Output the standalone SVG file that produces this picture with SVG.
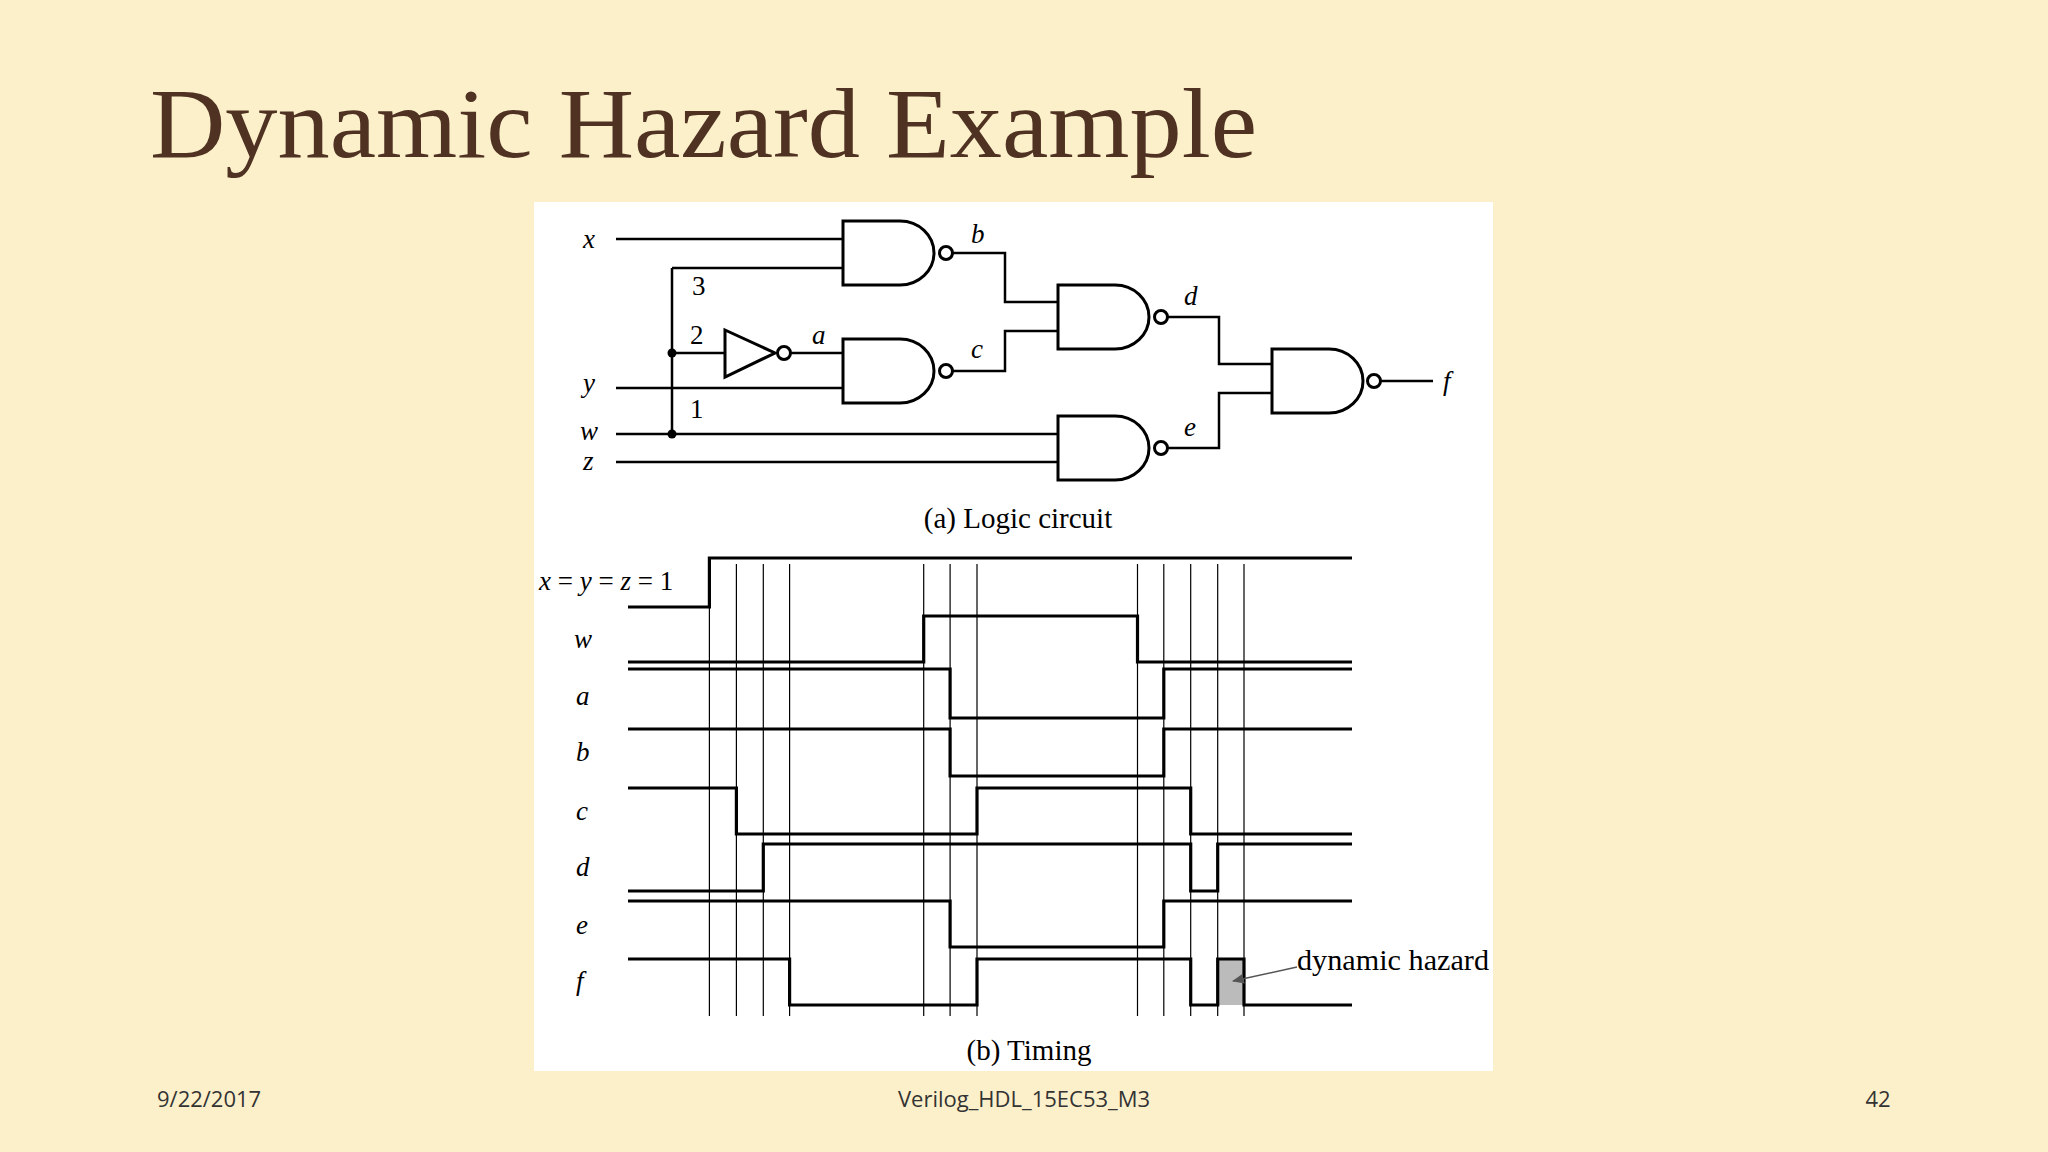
<svg xmlns="http://www.w3.org/2000/svg" width="2048" height="1152" viewBox="0 0 2048 1152">
<style>
.w{fill:none;stroke:#000;stroke-width:2.5}
.g{fill:#fff;stroke:#000;stroke-width:3}
.s{fill:none;stroke:#000;stroke-width:3.2}
.t{fill:none;stroke:#000;stroke-width:1.2}
.l{font-family:"Liberation Serif",serif;font-style:italic;font-size:27px;fill:#000}
.n{font-family:"Liberation Serif",serif;font-size:27px;fill:#000}
.c{font-family:"Liberation Serif",serif;font-size:29px;fill:#000}
.f{font-family:"Open Sans",sans-serif;font-size:22px;fill:#333}
</style>
<defs>
<path id="nand" d="M0 0H57A34 32 0 0 1 57 64H0Z" class="g"/>
<marker id="ah" markerWidth="12" markerHeight="10" refX="11" refY="5" orient="auto" markerUnits="userSpaceOnUse"><path d="M0 0L12 5L0 10Z" fill="#555"/></marker>
</defs>
<rect width="2048" height="1152" fill="#fcf0cb"/>
<text x="150" y="157" font-family="Liberation Serif,serif" font-size="100" fill="#4f3222" textLength="1107" lengthAdjust="spacingAndGlyphs">Dynamic Hazard Example</text>
<rect x="534" y="202" width="959" height="869" fill="#fff"/>
<text class="f" x="157" y="1107">9/22/2017</text>
<text class="f" x="1024" y="1107" text-anchor="middle">Verilog_HDL_15EC53_M3</text>
<text class="f" x="1878" y="1107" text-anchor="middle">42</text>
<g id="connectors">
<path class="w" d="M616 239H843M672 268H843M672 268V434M672 353H725M791 353H843M616 388H843M952 253H1005V302H1058M952 371H1005V331H1058M1167 317H1219V364H1272M1167 448H1219V393H1272M1380 381H1433M616 434H1058M616 462H1058"/>
<circle cx="672" cy="353" r="4.5"/><circle cx="672" cy="434" r="4.5"/>
</g>
<g id="gate-b"><use href="#nand" x="843" y="221"/><circle class="g" cx="946" cy="253" r="6.5"/></g>
<g id="gate-c"><use href="#nand" x="843" y="339"/><circle class="g" cx="946" cy="371" r="6.5"/></g>
<g id="gate-d"><use href="#nand" x="1058" y="285"/><circle class="g" cx="1161" cy="317" r="6.5"/></g>
<g id="gate-e"><use href="#nand" x="1058" y="416"/><circle class="g" cx="1161" cy="448" r="6.5"/></g>
<g id="gate-f"><use href="#nand" x="1272" y="349"/><circle class="g" cx="1374" cy="381" r="6.5"/></g>
<g id="inv"><path class="g" d="M725 330L775 353L725 377Z"/><circle class="g" cx="784" cy="353" r="6.5"/></g>
<g id="labels">
<text class="l" x="583" y="248">x</text><text class="l" x="583" y="392">y</text><text class="l" x="580" y="440">w</text><text class="l" x="583" y="470">z</text>
<text class="l" x="971" y="243">b</text><text class="l" x="971" y="358">c</text><text class="l" x="1184" y="305">d</text><text class="l" x="1184" y="436">e</text><text class="l" x="812" y="344">a</text><text class="l" x="1443" y="390">f</text>
<text class="n" x="692" y="295">3</text><text class="n" x="690" y="344">2</text><text class="n" x="690" y="418">1</text>
<text class="c" x="1018" y="528" text-anchor="middle">(a) Logic circuit</text>
</g>
<g id="timing">
<path class="t" d="M709.4 564V1016M736.4 564V1016M763.3 564V1016M789.6 564V1016M923.7 564V1016M950.1 564V1016M977 564V1016M1137.5 564V1016M1163.8 564V1016M1190.7 564V1016M1217.7 564V1016M1244 564V1016"/>
<rect x="1217.7" y="959" width="26.3" height="46" fill="#bbb"/>
<path class="s" d="M628 607H709.4V558H1352M628 662H923.7V616H1137.5V662H1352M628 669H950.1V718H1163.8V669H1352M628 729H950.1V776H1163.8V729H1352M628 788H736.4V834H977V788H1190.7V834H1352M628 891H763.3V844H1190.7V891H1217.7V844H1352M628 901H950.1V947H1163.8V901H1352M628 959H789.6V1005H977V959H1190.7V1005H1217.7V959H1244V1005H1352"/>
<text class="l" x="539" y="590">x <tspan font-style="normal">=</tspan> y <tspan font-style="normal">=</tspan> z <tspan font-style="normal">= 1</tspan></text>
<text class="l" x="574" y="648">w</text><text class="l" x="576" y="705">a</text><text class="l" x="576" y="761">b</text><text class="l" x="576" y="820">c</text><text class="l" x="576" y="876">d</text><text class="l" x="576" y="934">e</text><text class="l" x="576" y="990">f</text>
<text class="c" x="1297" y="970" textLength="192" lengthAdjust="spacingAndGlyphs">dynamic hazard</text>
<path d="M1297 967L1233 981" stroke="#555" stroke-width="1.5" marker-end="url(#ah)"/>
<text class="c" x="1029" y="1060" text-anchor="middle">(b) Timing</text>
</g>
</svg>
